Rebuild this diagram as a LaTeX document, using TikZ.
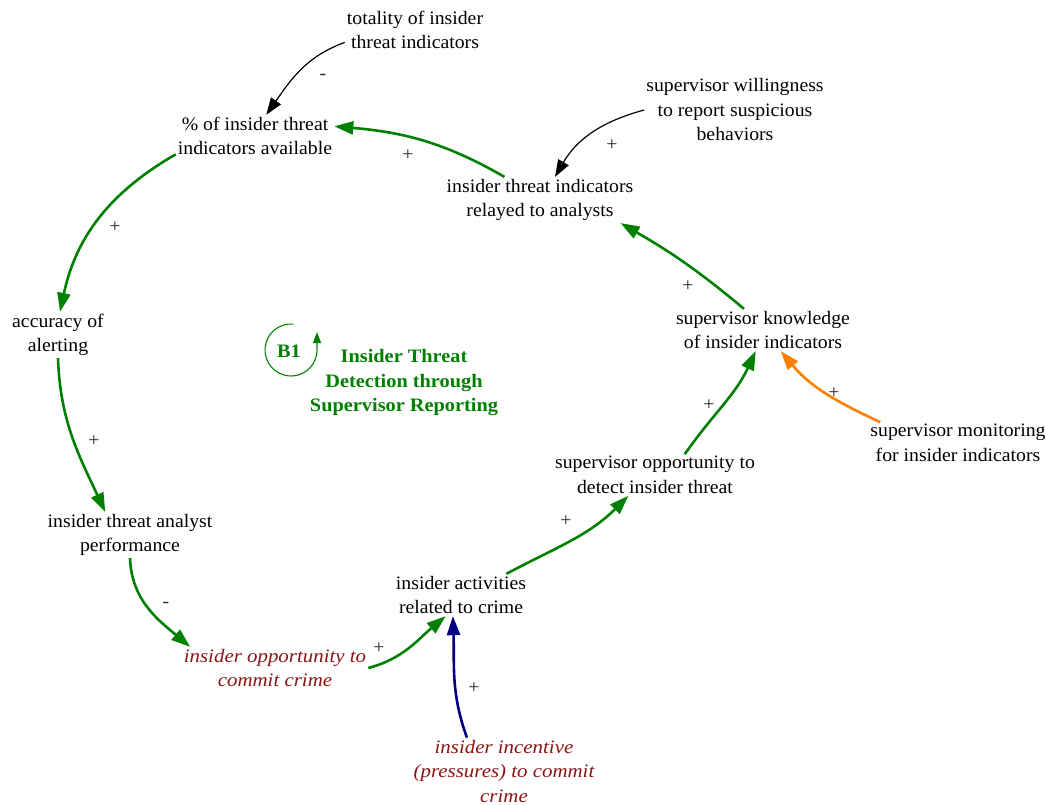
\documentclass[tikz,border=0pt]{standalone}
\usepackage{fontspec}
\setmainfont[FakeStretch=1.04]{Liberation Serif}
\newfontfamily\itfam[FakeStretch=1.1]{Liberation Serif}
\newfontfamily\bffam[FakeStretch=1.07]{Liberation Serif}
\usetikzlibrary{arrows.meta}
\definecolor{lgreen}{RGB}{0,128,0}
\definecolor{dred}{RGB}{140,20,20}
\definecolor{lnavy}{RGB}{0,0,128}
\definecolor{lorange}{RGB}{255,128,0}
\begin{document}
\begin{tikzpicture}[x=1pt,y=1pt,
  every node/.style={font=\fontsize{19}{24.5}\selectfont, align=center, inner sep=2pt},
  var/.style={text=black},
  ext/.style={text=dred, font=\fontsize{19}{24.5}\selectfont\itfam\itshape},
  sign/.style={text=black!85},
  loopname/.style={text=lgreen, font=\fontsize{19}{24.5}\selectfont\bffam\bfseries},
  grlink/.style={line width=2.6pt, draw=lgreen, -{Triangle[length=19pt,width=13pt]}},
  bklink/.style={line width=1.2pt, draw=black, -{Triangle[length=17pt,width=12pt]}},
  nvlink/.style={line width=2.6pt, draw=lnavy, -{Triangle[length=19pt,width=13pt]}},
  orlink/.style={line width=2.6pt, draw=lorange, -{Triangle[length=19pt,width=13pt]}}]
\useasboundingbox (0,0) rectangle (1046,-805);

% variables
\node[var] (tot)  at (415,-30)  {totality of insider\\threat indicators};
\node[var] (pct)  at (255,-136) {\% of insider threat\\indicators available};
\node[var] (will) at (735,-110) {supervisor willingness\\to report suspicious\\behaviors};
\node[var] (rel)  at (540,-200) {insider threat indicators\\relayed to analysts};
\node[var] (acc)  at (58,-335)  {accuracy of\\alerting};
\node[var] (know) at (763,-330) {supervisor knowledge\\of insider indicators};
\node[var] (mon)  at (958,-443) {supervisor monitoring\\for insider indicators};
\node[var] (sopp) at (655,-475) {supervisor opportunity to\\detect insider threat};
\node[var] (perf) at (130,-535) {insider threat analyst\\performance};
\node[var] (act)  at (461,-595) {insider activities\\related to crime};
\node[ext] (iopp) at (275,-668) {insider opportunity to\\commit crime};
\node[ext] (inc)  at (504,-771) {insider incentive\\(pressures) to commit\\crime};

% loop marker
\node[loopname] (b1) at (289,-351) {B1};
\node[loopname] (title) at (404,-383) {Insider Threat\\Detection through\\Supervisor Reporting};
\coordinate (b1c) at (291,-350);
\coordinate (b1tip) at (317,-332);
\draw[line width=1.1pt, draw=lgreen, -{Triangle[length=11pt,width=8pt]}]
  (b1c) ++(85:26) arc[start angle=85, end angle=360, radius=26] -- (b1tip);

% links
\draw[bklink] (tot.190) to[out=200,in=55] (pct.62);
\draw[grlink] (rel.147) to[out=150,in=-5] (pct.7);
\draw[bklink] (will.180) to[out=195,in=60] (rel.57);
\draw[grlink] (pct.193) to[out=210,in=78] ([xshift=2pt]acc.north);
\draw[grlink] (know.132) to[out=140,in=-30] (rel.-16);
\draw[grlink] (acc.south) to[out=-88,in=115] (perf.137);
\draw[grlink] (sopp.35) to[out=55,in=245] (know.-109);
\draw[orlink] (mon.165) to[out=155,in=-50] (know.-50);
\draw[grlink] (act.25) to[out=28,in=225] (sopp.-142);
\draw[grlink] (perf.south) to[out=-88,in=140] (iopp.166);
\draw[grlink] (iopp.0) to[out=15,in=220] (act.-126);
\draw[nvlink] (inc.138) to[out=110,in=-88] (act.-111);

% polarity signs
\node[sign] (s1)  at (323,-77)  {-};
\node[sign] (s2)  at (408,-155) {+};
\node[sign] (s3)  at (612,-145) {+};
\node[sign] (s4)  at (115,-227) {+};
\node[sign] (s5)  at (688,-286) {+};
\node[sign] (s6)  at (94,-441)  {+};
\node[sign] (s7)  at (709,-405) {+};
\node[sign] (s8)  at (834,-393) {+};
\node[sign] (s9)  at (566,-521) {+};
\node[sign] (s10) at (166,-605) {-};
\node[sign] (s11) at (379,-648) {+};
\node[sign] (s12) at (474,-688) {+};
\end{tikzpicture}
\end{document}
